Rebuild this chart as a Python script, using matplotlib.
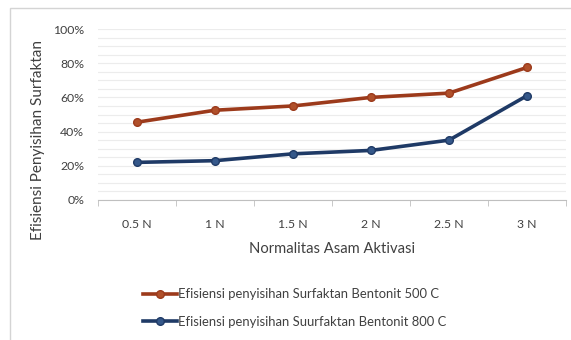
import matplotlib
matplotlib.use("Agg")
import matplotlib.pyplot as plt
from matplotlib.patches import Rectangle
from matplotlib.ticker import FuncFormatter, MultipleLocator

categories = ["0.5 N", "1 N", "1.5 N", "2 N", "2.5 N", "3 N"]
eff_500 = [0.455, 0.525, 0.55, 0.60, 0.625, 0.775]
eff_800 = [0.22, 0.23, 0.27, 0.29, 0.35, 0.61]
label_500 = "Efisiensi penyisihan Surfaktan Bentonit 500 C"
label_800 = "Efisiensi penyisihan Suurfaktan Bentonit 800 C"

plt.rcParams["font.family"] = ["Lato", "DejaVu Sans"]
W, H = 571, 340
fig = plt.figure(figsize=(W / 100, H / 100), dpi=100)

# outer chart frame
fig.patches.append(Rectangle((10 / W, -0.05), 1.2, 1 - 8 / H + 0.05,
                             transform=fig.transFigure, fill=False,
                             edgecolor="#d4d4d4", linewidth=1.0))

ax = fig.add_axes([98 / W, (H - 200) / H, 468 / W, 171 / H])
x = list(range(len(categories)))

red = "#9c3a1b"
blue = "#1f3a66"
ax.plot(x, eff_500, color=red, linewidth=2.6, marker="o", markersize=5.5,
        markerfacecolor="#b0502a", markeredgecolor=red, label=label_500, zorder=3)
ax.plot(x, eff_800, color=blue, linewidth=2.6, marker="o", markersize=5.5,
        markerfacecolor="#35588a", markeredgecolor=blue, label=label_800, zorder=3)

ax.set_xlim(-0.5, len(categories) - 0.5)
ax.set_ylim(0, 1.0)
ax.yaxis.set_major_locator(MultipleLocator(0.2))
ax.yaxis.set_minor_locator(MultipleLocator(0.05))
ax.yaxis.set_major_formatter(FuncFormatter(lambda v, p: f"{v:.0%}"))
ax.grid(axis="y", which="both", color="#ececec", linewidth=0.8)
ax.set_axisbelow(True)

ax.set_xticks(x)
ax.set_xticklabels(categories)
ax.set_xticks([i + 0.5 for i in range(-1, len(categories))], minor=True)
ax.tick_params(axis="x", which="major", length=0, pad=14, labelsize=8.8, colors="#404040")
ax.tick_params(axis="x", which="minor", length=4, color="#bfbfbf", direction="out")
ax.tick_params(axis="y", which="both", length=0, labelsize=8.8, colors="#404040", pad=10)

for s in ["top", "right", "left"]:
    ax.spines[s].set_visible(False)
ax.spines["bottom"].set_color("#bfbfbf")

ax.set_xlabel("Normalitas Asam Aktivasi", fontsize=10.6, color="#404040", labelpad=8)
fig.text(38 / W, 1 - 140 / H, "Efisiensi Penyisihan Surfaktan", rotation=90,
         ha="center", va="center", fontsize=11.0, color="#404040")

leg = fig.legend(loc="center", bbox_to_anchor=(295 / W, 1 - 308 / H), ncol=1,
                 frameon=False, fontsize=9.4, handlelength=2.6, handletextpad=0.1,
                 labelspacing=1.2)
for t in leg.get_texts():
    t.set_color("#404040")

fig.savefig("out.png", dpi=100, facecolor="white")
